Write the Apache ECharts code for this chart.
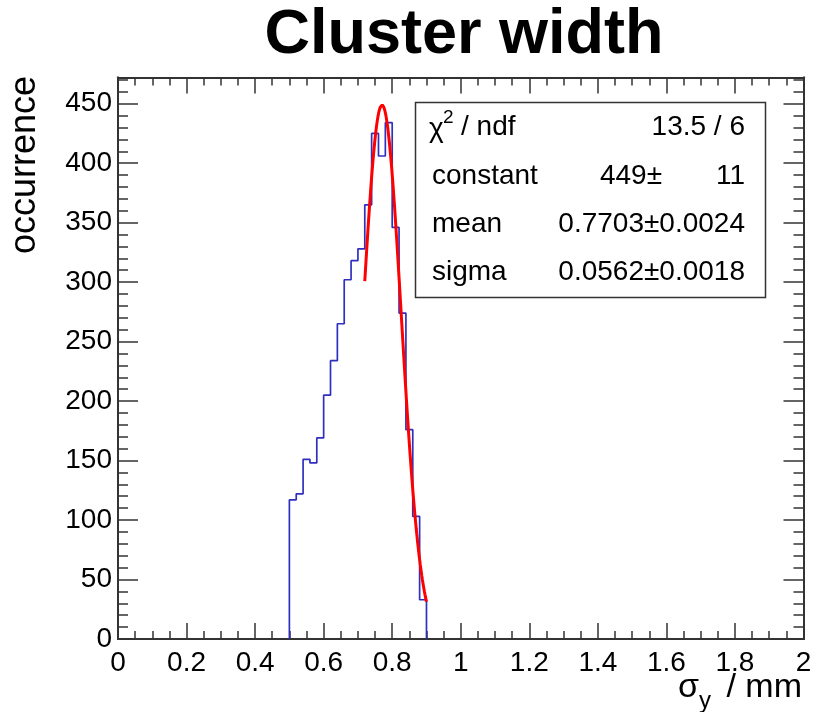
<!DOCTYPE html>
<html>
<head>
<meta charset="utf-8">
<script src="https://cdn.jsdelivr.net/npm/echarts@6/dist/echarts.min.js"></script>
<style>
  html, body { margin: 0; padding: 0; background: #fff; }
  #chart { width: 819px; height: 712px; }
</style>
</head>
<body>
<div id="chart"></div>
<script>
// Histogram of cluster width: bin edges (mm) and counts per bin
const binLow = 0.5;
const binWidth = 0.02;
const counts = [117, 122, 151, 148, 169, 205, 234, 265, 302, 318,
                328, 365, 425, 406, 434, 346, 274, 176, 103, 33];

// Gaussian fit result and fit range
const fitConstant = 449;
const fitMean = 0.7703;
const fitSigma = 0.0562;
const fitRange = [0.72, 0.90];

// Stat box rows
const statNames = ['constant', 'mean', 'sigma'];
const statValues = ['449\u00b1', '0.7703\u00b10.0024', '0.0562\u00b10.0018'];
const chi2Text = '13.5 / 6';

// Axis settings
const xTicks = { min: 0, max: 2, interval: 0.2 };
const yTicks = { min: 0, max: 472, interval: 50, minor: 10 };

// Step outline of the histogram
const histLine = [[binLow, 0]];
counts.forEach((c, i) => {
  const lo = binLow + i * binWidth;
  histLine.push([lo, c], [lo + binWidth, c]);
});
histLine.push([binLow + counts.length * binWidth, 0]);

// Fitted Gaussian sampled over the fit range
const fitLine = [];
const nFit = 120;
for (let i = 0; i <= nFit; i++) {
  const x = fitRange[0] + (fitRange[1] - fitRange[0]) * i / nFit;
  const z = (x - fitMean) / fitSigma;
  fitLine.push([x, fitConstant * Math.exp(-0.5 * z * z)]);
}

const FONT = '"Liberation Sans", Arial, Helvetica, sans-serif';
const FRAME = '#333';

const chart = echarts.init(document.getElementById('chart'), null, { renderer: 'canvas' });

const hiddenLabels = { show: false };
function yAxisDef(pos, interval, tickLen, showLabel) {
  return {
    type: 'value', position: pos, min: yTicks.min, max: yTicks.max, interval: interval,
    axisLine: { show: true, onZero: false, lineStyle: { color: FRAME, width: 2 } },
    axisTick: { show: true, inside: true, length: tickLen, lineStyle: { color: FRAME, width: 1.5 } },
    axisLabel: showLabel ? {
      show: true, fontFamily: FONT, fontSize: 28, color: '#000', margin: 6,
      showMaxLabel: false
    } : hiddenLabels,
    splitLine: { show: false }
  };
}
function xAxisDef(pos, showLabel) {
  return {
    type: 'value', position: pos, min: xTicks.min, max: xTicks.max, interval: xTicks.interval,
    axisLine: { show: true, onZero: false, lineStyle: { color: FRAME, width: 2 } },
    axisTick: { show: true, inside: true, length: 16, lineStyle: { color: FRAME, width: 1.5 } },
    minorTick: { show: true, splitNumber: 4, length: 8, lineStyle: { color: FRAME, width: 1.5 } },
    axisLabel: showLabel ? { show: true, fontFamily: FONT, fontSize: 28, color: '#000', margin: 10 } : hiddenLabels,
    splitLine: { show: false }
  };
}

chart.setOption({
  animation: false,
  backgroundColor: '#fff',
  grid: { left: 118, right: 15.5, top: 77.5, bottom: 73, containLabel: false },
  xAxis: [xAxisDef('bottom', true), xAxisDef('top', false)],
  yAxis: [
    yAxisDef('left', yTicks.interval, 20, true),
    yAxisDef('left', yTicks.minor, 10, false),
    yAxisDef('right', yTicks.interval, 20, false),
    yAxisDef('right', yTicks.minor, 10, false)
  ],
  series: [
    {
      type: 'line', data: histLine, xAxisIndex: 0, yAxisIndex: 0,
      showSymbol: false, symbol: 'none',
      lineStyle: { color: '#3030c0', width: 1.7 }, z: 3
    },
    {
      type: 'line', data: fitLine, xAxisIndex: 0, yAxisIndex: 0,
      showSymbol: false, symbol: 'none', smooth: false,
      lineStyle: { color: '#ff0000', width: 3 }, z: 4
    }
  ],
  graphic: [
    // Title
    { type: 'text', x: 464, y: 36,
      style: { text: 'Cluster width', font: 'bold 63px ' + FONT, fill: '#000',
               textAlign: 'center', textVerticalAlign: 'middle' } },
    // Y axis title
    { type: 'text', x: 25, y: 76, rotation: Math.PI / 2,
      style: { text: 'occurrence', font: '36px ' + FONT, fill: '#000',
               textAlign: 'right', textVerticalAlign: 'middle' } },
    // X axis title: sigma_y / mm
    { type: 'text', x: 802, y: 688,
      style: { text: '/ mm', font: '34px ' + FONT, fill: '#000',
               textAlign: 'right', textVerticalAlign: 'middle' } },
    { type: 'text', x: 699, y: 701,
      style: { text: 'y', font: '24px ' + FONT, fill: '#000',
               textAlign: 'left', textVerticalAlign: 'middle' } },
    { type: 'text', x: 699, y: 688,
      style: { text: '\u03c3', font: '34px ' + FONT, fill: '#000',
               textAlign: 'right', textVerticalAlign: 'middle' } },
    // Stat box
    { type: 'rect', shape: { x: 415.5, y: 102.5, width: 350, height: 195 },
      style: { fill: '#fff', stroke: FRAME, lineWidth: 1.5 }, z: 10 },
    { type: 'text', x: 429, y: 129, z: 11,
      style: { text: '\u03c7', font: '28px ' + FONT, fill: '#000', textAlign: 'left', textVerticalAlign: 'middle' } },
    { type: 'text', x: 443, y: 118, z: 11,
      style: { text: '2', font: '19px ' + FONT, fill: '#000', textAlign: 'left', textVerticalAlign: 'middle' } },
    { type: 'text', x: 461, y: 127, z: 11,
      style: { text: '/ ndf', font: '28px ' + FONT, fill: '#000', textAlign: 'left', textVerticalAlign: 'middle' } },
    { type: 'text', x: 745, y: 127, z: 11,
      style: { text: chi2Text, font: '28px ' + FONT, fill: '#000', textAlign: 'right', textVerticalAlign: 'middle' } },
    ...statNames.map((n, i) => ({
      type: 'text', x: 432, y: 176 + i * 48, z: 11,
      style: { text: n, font: '28px ' + FONT, fill: '#000', textAlign: 'left', textVerticalAlign: 'middle' }
    })),
    ...statValues.map((v, i) => ({
      type: 'text', x: i === 0 ? 662 : 745, y: 176 + i * 48, z: 11,
      style: { text: v, font: '28px ' + FONT, fill: '#000', textAlign: 'right', textVerticalAlign: 'middle' }
    })),
    { type: 'text', x: 745, y: 176, z: 11,
      style: { text: '11', font: '28px ' + FONT, fill: '#000', textAlign: 'right', textVerticalAlign: 'middle' } }
  ]
});
</script>
</body>
</html>
